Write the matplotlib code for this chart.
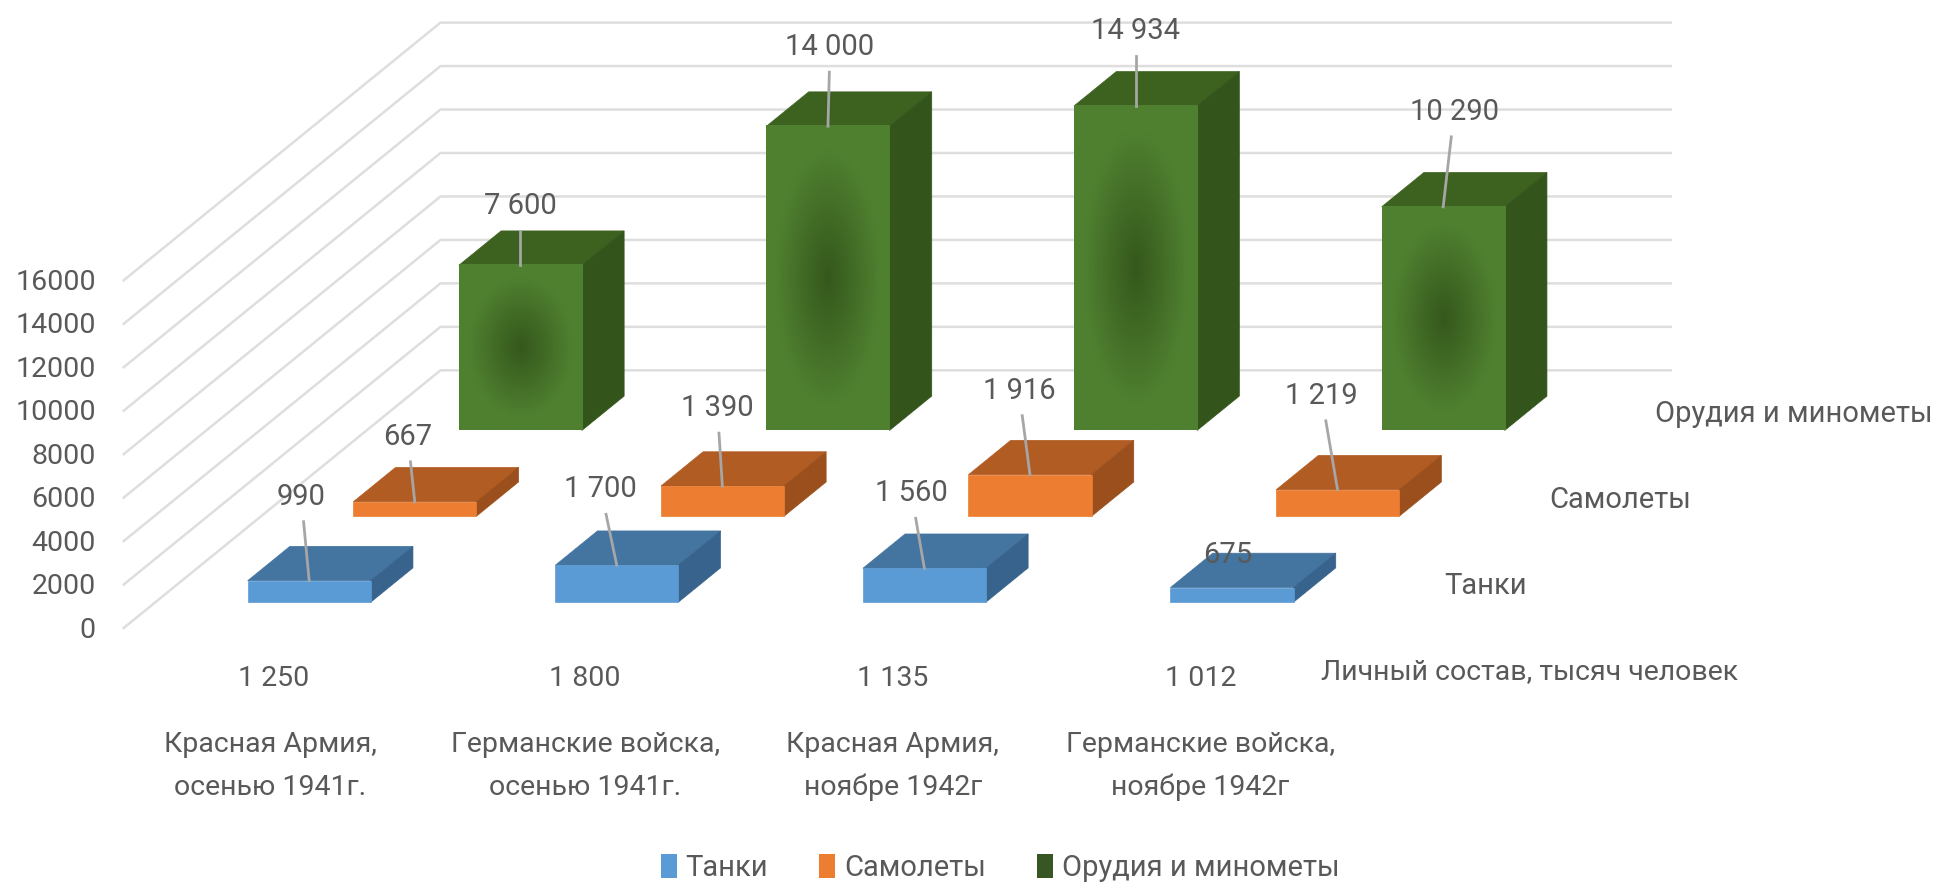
import numpy as np
import matplotlib
matplotlib.use("Agg")
import matplotlib.pyplot as plt
from matplotlib.colors import LinearSegmentedColormap
from matplotlib.patches import Patch, Polygon

# ------------------- data -------------------
kategorien = [
    "Красная Армия,\nосенью 1941г.",
    "Германские войска,\nосенью 1941г.",
    "Красная Армия,\nноябре 1942г",
    "Германские войска,\nноябре 1942г",
]
serien = ["Танки", "Самолеты", "Орудия и минометы"]
tanki = [990, 1700, 1560, 675]
samolety = [667, 1390, 1916, 1219]
orudiya = [7600, 14000, 14934, 10290]
lichny_sostav = [1250, 1800, 1135, 1012]
lichny_titel = "Личный состав, тысяч человек"
y_ticks = [0, 2000, 4000, 6000, 8000, 10000, 12000, 14000, 16000]

# ------------------- style -------------------
plt.rcParams["font.family"] = ["Roboto", "DejaVu Sans"]
GRAU = "#595959"
farben = [  # front, top, side
    ("#5B9BD5", "#4474A0", "#38638C"),
    ("#ED7D31", "#B15C22", "#9A4F1C"),
    ("#4F8030", "#3D621F", "#33551B"),
]
gruen_verlauf = LinearSegmentedColormap.from_list("g", ["#35581C", "#4F8030"])

# offset of each data label from the top of its bar, in pixels
label_offset = [
    [(-8, -84), (-16, -76), (-13, -75), (-4, -33)],
    [(-7, -65), (-5, -78), (-11, -84), (-16, -94)],
    [(0, -59), (2, -79), (0, -75), (11, -95)],
]


# oblique view: category position, series depth, value -> figure pixels
def proj(x, tiefe, wert):
    px = 123.7 + 307.6 * x + 105.6 * tiefe
    py = 628 - 85.9 * tiefe - wert * 0.02173
    return px, py


fig = plt.figure(figsize=(19.36, 8.82), dpi=100)
ax = fig.add_axes([0, 0, 1, 1])
ax.axis("off")

n = len(kategorien)
d_max = len(serien)

# ----- walls -----
for t in y_ticks:
    pts = [proj(0, 0, t), proj(0, d_max, t), proj(n, d_max, t)]
    ax.plot(*zip(*pts), color="#DEDEDE", lw=1.8, zorder=0.5, solid_joinstyle="miter")
    px, py = proj(0, 0, t)
    ax.text(px - 28, py + 2, str(t), ha="right", va="center", fontsize=20.5, color=GRAU)

# ----- bars, back to front -----
werte = [tanki, samolety, orudiya]
z = 1
for s in range(d_max - 1, -1, -1):
    front, top, side = farben[s]
    for i in range(n):
        v = werte[s][i]
        x0, x1 = i + 0.3, i + 0.7
        d0, d1 = s + 0.3, s + 0.7
        ax.add_patch(Polygon([proj(x0, d0, v), proj(x1, d0, v), proj(x1, d1, v), proj(x0, d1, v)],
                             fc=top, ec=top, lw=0.5, zorder=z))
        ax.add_patch(Polygon([proj(x1, d0, 0), proj(x1, d1, 0), proj(x1, d1, v), proj(x1, d0, v)],
                             fc=side, ec=side, lw=0.5, zorder=z))
        l, b = proj(x0, d0, 0)
        r, o = proj(x1, d0, v)
        if s == 2:
            u, w = np.meshgrid(np.linspace(-1, 1, 200), np.linspace(-1, 1, 200))
            r_norm = np.clip(np.sqrt(u ** 2 + w ** 2) / 0.85, 0, 1)
            ax.imshow(r_norm, cmap=gruen_verlauf, extent=(l, r, b, o), aspect="auto",
                      zorder=z, interpolation="bilinear")
        else:
            ax.add_patch(Polygon([(l, b), (r, b), (r, o), (l, o)], fc=front, ec=front, lw=0.5, zorder=z))

        # data label with leader line
        cx, cy = proj(i + 0.5, d0, v)
        ox, oy = label_offset[s][i]
        tx, ty = cx + ox, cy + oy
        if abs(oy) > 40:
            sy = ty + 25
            sx = cx + ox * (cy - sy) / (cy - ty)
            ax.plot([sx, cx], [sy, cy], color="#A6A6A6", lw=2, zorder=z + 0.5)
        ax.text(tx, ty, f"{v:,}".replace(",", " "), ha="center", va="center",
                fontsize=21, color=GRAU, zorder=50)
        z += 1

    # series name at the right end
    px, py = proj(n, s + 0.5, 0)
    ax.text(px + 37, py + 1, serien[s], ha="left", va="center", fontsize=21, color=GRAU, zorder=50)

# ----- rows below the floor -----
kat_dx = [-7, 0, 0, 0]
for i in range(n):
    px, py = proj(i + 0.5, 0, 0)
    ax.text(px + kat_dx[i] / 2, py + 50, f"{lichny_sostav[i]:,}".replace(",", " "),
            ha="center", va="center", fontsize=20.5, color=GRAU)
    ax.text(px + kat_dx[i], py + 138, kategorien[i], ha="center", va="center",
            fontsize=20.5, color=GRAU, linespacing=1.75)
ax.text(1530, 672, lichny_titel, ha="center", va="center", fontsize=20.5, color=GRAU)

griffe = [Patch(fc=farben[0][0], label=serien[0]),
          Patch(fc=farben[1][0], label=serien[1]),
          Patch(fc="#375623", label=serien[2])]
ax.legend(handles=griffe, loc="center", bbox_to_anchor=(1000 / 1936, 1 - 868 / 882), ncol=3,
          frameon=False, fontsize=21, labelcolor=GRAU, handlelength=0.55, handleheight=0.85,
          handletextpad=0.3, columnspacing=1.75, borderpad=0)

ax.set_xlim(0, 1936)
ax.set_ylim(882, 0)
fig.savefig("out.png", dpi=100)
